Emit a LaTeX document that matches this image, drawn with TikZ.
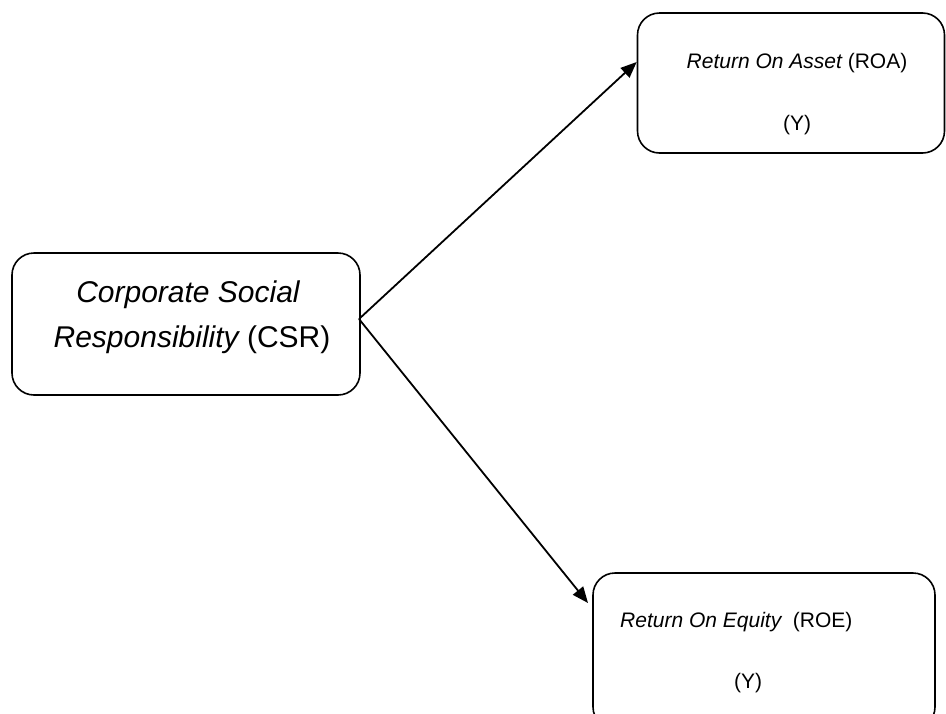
\documentclass[tikz,border=0pt]{standalone}
\usepackage{fontspec}
\setmainfont{Liberation Sans}
\usetikzlibrary{arrows.meta}
\begin{document}
\begin{tikzpicture}[x=1pt,y=-1pt,
  box/.style={draw,line width=1.6pt,rounded corners=22pt,inner sep=0pt},
  big/.style={font=\fontsize{30}{36}\selectfont,inner sep=0pt},
  small/.style={font=\fontsize{21}{25}\selectfont,inner sep=0pt},
  arr/.style={line width=1.8pt,-{Triangle[length=16pt,width=13pt]}}]
\clip (0,0) rectangle (946,713);
\fill[white] (0,0) rectangle (946,713);
% boxes
\node[box,minimum width=348pt,minimum height=142pt] (csr) at (186,324) {};
\node[box,minimum width=307pt,minimum height=140pt] (roa) at (791,83) {};
\node[box,minimum width=342pt,minimum height=156pt] (roe) at (764,651) {};
% texts
\node[big] (csr1) at (188,295) {\itshape Corporate Social};
\node[big] (csr2) at (192,340) {\itshape Responsibility\upshape\ (CSR)};
\node[small] (roa1) at (797,63) {\itshape Return On Asset\upshape\ (ROA)};
\node[small] (roa2) at (797,125) {(Y)};
\node[small,anchor=west] (roe1) at (620,622) {\itshape Return On Equity\upshape\ \ (ROE)};
\node[small] (roe2) at (748,683) {(Y)};
% connectors
\coordinate (s) at (359,319);
\coordinate (ta) at (roa.west |- 0,62);
\coordinate (te) at (588,603);
\draw[arr] (s) -- (ta);
\draw[arr] (s) -- (te);
\end{tikzpicture}
\end{document}
